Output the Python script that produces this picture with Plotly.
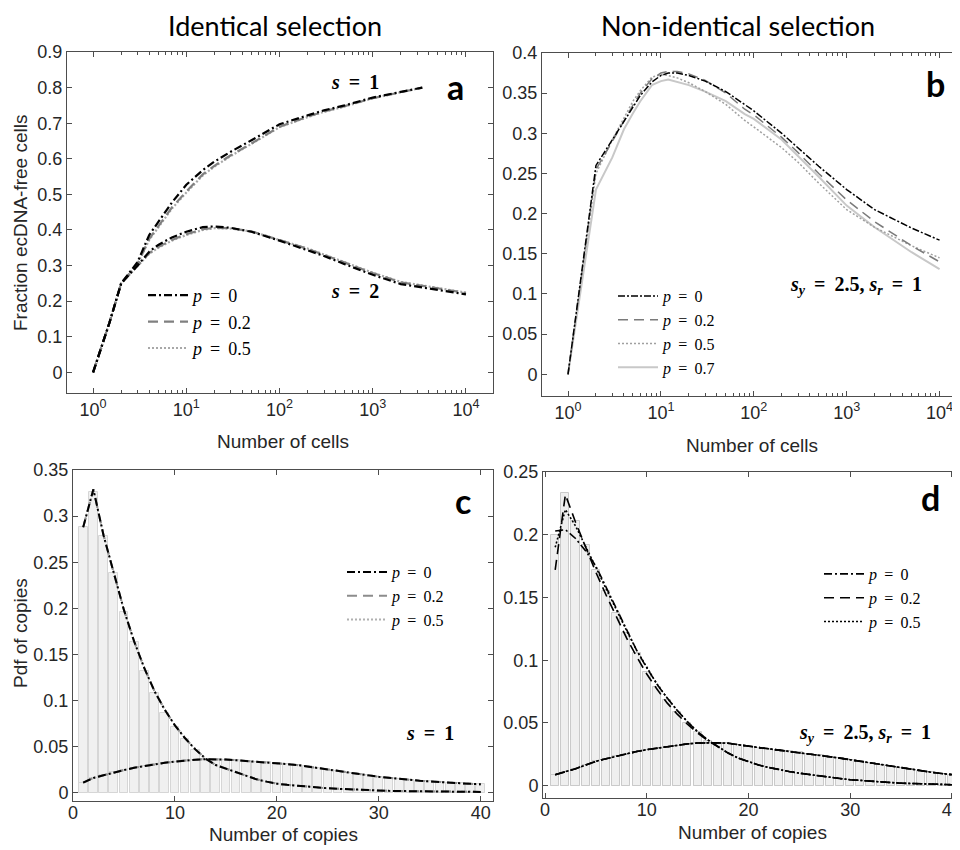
import plotly.graph_objects as go

W, H = 960, 850
OFF = 8  # the page adds an 8 px body margin; shift positions to compensate

# ---------------- Panel a data (Identical selection) ----------------
a_x_s1 = [1, 1.5, 2, 3, 4, 5, 7, 10, 15, 20, 30, 50, 100, 200, 300, 500, 1000, 2000, 3400]
a_s1_p0 = [0, 0.14, 0.25, 0.31, 0.386, 0.422, 0.477, 0.527, 0.568, 0.592, 0.620, 0.652, 0.697, 0.722, 0.736, 0.750, 0.772, 0.788, 0.800]
a_s1_p02 = [0, 0.14, 0.25, 0.305, 0.375, 0.410, 0.463, 0.508, 0.556, 0.580, 0.610, 0.643, 0.690, 0.718, 0.733, 0.748, 0.770, 0.787, 0.800]
a_s1_p05 = [0, 0.14, 0.25, 0.305, 0.372, 0.408, 0.460, 0.505, 0.553, 0.578, 0.608, 0.642, 0.689, 0.717, 0.732, 0.747, 0.770, 0.787, 0.800]

a_x_s2 = [1, 1.5, 2, 3, 4, 5, 7, 10, 15, 20, 30, 50, 100, 200, 300, 500, 1000, 2000, 5000, 10000]
a_s2_p0 = [0, 0.14, 0.25, 0.30, 0.339, 0.358, 0.379, 0.395, 0.408, 0.410, 0.406, 0.395, 0.370, 0.344, 0.327, 0.304, 0.274, 0.248, 0.231, 0.219]
a_s2_p02 = [0, 0.14, 0.25, 0.30, 0.335, 0.352, 0.372, 0.388, 0.402, 0.406, 0.405, 0.396, 0.372, 0.347, 0.330, 0.308, 0.279, 0.253, 0.236, 0.223]
a_s2_p05 = [0, 0.14, 0.25, 0.30, 0.333, 0.350, 0.370, 0.386, 0.400, 0.405, 0.404, 0.396, 0.373, 0.348, 0.331, 0.309, 0.280, 0.254, 0.237, 0.224]

# ---------------- Panel b data (Non-identical selection) ----------------
b_x = [1, 2, 3, 4, 5, 6, 8, 10, 12, 15, 20, 30, 50, 80, 100, 200, 300, 500, 1000, 2000, 5000, 10000]
b_p0 = [0, 0.260, 0.292, 0.315, 0.333, 0.347, 0.364, 0.372, 0.375, 0.375, 0.372, 0.365, 0.352, 0.335, 0.328, 0.300, 0.282, 0.259, 0.230, 0.205, 0.182, 0.167]
b_p02 = [0, 0.255, 0.290, 0.316, 0.335, 0.350, 0.368, 0.375, 0.377, 0.377, 0.374, 0.366, 0.350, 0.330, 0.323, 0.295, 0.276, 0.250, 0.217, 0.190, 0.160, 0.140]
b_p05 = [0, 0.250, 0.292, 0.320, 0.340, 0.353, 0.370, 0.373, 0.372, 0.369, 0.363, 0.352, 0.336, 0.316, 0.308, 0.282, 0.264, 0.238, 0.205, 0.183, 0.160, 0.145]
b_p07 = [0, 0.230, 0.270, 0.305, 0.325, 0.340, 0.360, 0.365, 0.367, 0.364, 0.360, 0.352, 0.340, 0.324, 0.318, 0.292, 0.272, 0.246, 0.210, 0.183, 0.152, 0.131]

# ---------------- Panel c data (copy-number pdf, s = 1) ----------------
copies = list(range(1, 41))
c_hist_narrow = [0.2885, 0.3265, 0.278, 0.238, 0.196, 0.163, 0.132, 0.108, 0.086, 0.0716,
                 0.058, 0.046, 0.037, 0.030, 0.025, 0.021, 0.017, 0.0142, 0.0118, 0.0098,
                 0.0085, 0.0074, 0.0064, 0.0055, 0.0048, 0.0042, 0.0036, 0.0031, 0.0026, 0.0022,
                 0.0020, 0.0018, 0.0016, 0.0014, 0.0012, 0.0011, 0.0010, 0.0009, 0.0008, 0.0008]
c_fit_narrow = [0.288, 0.329, 0.279, 0.237, 0.198, 0.164, 0.135, 0.110, 0.090, 0.073,
                0.059, 0.047, 0.037, 0.030, 0.026, 0.022, 0.018, 0.0145, 0.012, 0.0098,
                0.0085, 0.0074, 0.0064, 0.0055, 0.0048, 0.0042, 0.0036, 0.0031, 0.0026, 0.0022,
                0.0020, 0.0018, 0.0016, 0.0014, 0.0012, 0.0011, 0.0010, 0.0009, 0.0008, 0.0008]
c_broad = [0.011, 0.016, 0.019, 0.022, 0.0245, 0.027, 0.029, 0.031, 0.0325, 0.0336,
           0.035, 0.0358, 0.0363, 0.0363, 0.036, 0.0352, 0.0345, 0.0337, 0.0328, 0.032,
           0.031, 0.030, 0.0285, 0.027, 0.0248, 0.0233, 0.0218, 0.0203, 0.0188, 0.0172,
           0.016, 0.0149, 0.0139, 0.013, 0.0122, 0.0114, 0.0107, 0.0101, 0.0096, 0.0091]

# ---------------- Panel d data (copy-number pdf, s_y = 2.5, s_r = 1) ----------------
d_hist_narrow = [0.200, 0.233, 0.211, 0.192, 0.172, 0.155, 0.1376, 0.1217, 0.1058, 0.091,
                 0.079, 0.0685, 0.0587, 0.050, 0.0425, 0.036, 0.031, 0.026, 0.022, 0.019,
                 0.0165, 0.0145, 0.0127, 0.0113, 0.010, 0.0088, 0.0077, 0.0067, 0.0057, 0.0048,
                 0.0041, 0.0035, 0.0030, 0.0025, 0.0020, 0.0017, 0.0014, 0.0011, 0.0009, 0.0008]
d_head_p0 = [0.203, 0.204, 0.197, 0.187, 0.175, 0.158, 0.141, 0.124, 0.108, 0.094, 0.081, 0.070, 0.060, 0.051, 0.043, 0.0365]
d_head_p02 = [0.172, 0.232, 0.210, 0.190, 0.170, 0.152, 0.135, 0.118, 0.103, 0.089, 0.077, 0.066, 0.057, 0.049, 0.042, 0.036]
d_head_p05 = [0.190, 0.220, 0.207, 0.191, 0.174, 0.157, 0.140, 0.124, 0.108, 0.094, 0.081, 0.070, 0.060, 0.051, 0.043, 0.0365]
d_tail = [0.031, 0.026, 0.022, 0.019, 0.0165, 0.0145, 0.0127, 0.0113, 0.010, 0.0088,
          0.0077, 0.0067, 0.0057, 0.0048, 0.0041, 0.0035, 0.0030, 0.0025, 0.0020, 0.0017,
          0.0014, 0.0011, 0.0009, 0.0008]
d_broad = [0.0088, 0.011, 0.0135, 0.0165, 0.0194, 0.0215, 0.0235, 0.0255, 0.0272, 0.0287,
           0.030, 0.031, 0.032, 0.0333, 0.034, 0.0342, 0.0342, 0.0338, 0.0325, 0.0313,
           0.0304, 0.0294, 0.0284, 0.0275, 0.0266, 0.0255, 0.0244, 0.0232, 0.022, 0.0207,
           0.0194, 0.0181, 0.0168, 0.0155, 0.0142, 0.013, 0.0118, 0.0107, 0.0097, 0.0088]

# ---------------- text ----------------
log_tickvals = [1, 10, 100, 1000, 10000]
log_ticktext = ["10<sup>0</sup>", "10<sup>1</sup>", "10<sup>2</sup>", "10<sup>3</sup>", "10<sup>4</sup>"]
TS = "\u2009"
p_labels = ["<i>p</i>" + TS + " = " + TS + v for v in ["0", "0.2", "0.5", "0.7"]]

# ---------------- layout helpers ----------------
def px_x(v):
    return (v - OFF) / W

def px_y(v):
    return 1 - (v - OFF) / H

AX_COL = "#4d4d4d"
TICK_FONT = dict(family="Liberation Sans", size=18, color="#262626")

minor_log = [m * 10 ** e for e in range(0, 4) for m in range(2, 10)]


def axis_common(domain):
    return dict(domain=domain, showline=True, linecolor=AX_COL, linewidth=1, mirror="ticks",
                ticks="inside", ticklen=5, tickcolor=AX_COL, showgrid=False, zeroline=False,
                tickfont=TICK_FONT, automargin=False)


DD = "8px,3px,2px,3px"
DA = "10px,6px"
DT = "2px,2px"

fig = go.Figure()

# ---- panel a ----
blk_dd = dict(color="#000000", width=2.2, dash=DD)
gry_da = dict(color="#808080", width=2.2, dash=DA)
lgt_dt = dict(color="#a8a8a8", width=2.2, dash=DT)
for ys1, ys2, ln, lab in [(a_s1_p05, a_s2_p05, lgt_dt, p_labels[2]),
                          (a_s1_p02, a_s2_p02, gry_da, p_labels[1]),
                          (a_s1_p0, a_s2_p0, blk_dd, p_labels[0])]:
    fig.add_trace(go.Scatter(x=a_x_s1, y=ys1, mode="lines", line=ln, xaxis="x", yaxis="y",
                             name=lab, legend="legend", showlegend=True))
    fig.add_trace(go.Scatter(x=a_x_s2, y=ys2, mode="lines", line=ln, xaxis="x", yaxis="y",
                             showlegend=False))

# ---- panel b ----
b_styles = [(b_p07, dict(color="#c8c8c8", width=2, dash="solid"), p_labels[3]),
            (b_p05, dict(color="#a0a0a0", width=1.5, dash=DT), p_labels[2]),
            (b_p02, dict(color="#7a7a7a", width=1.5, dash=DA), p_labels[1]),
            (b_p0, dict(color="#000000", width=1.5, dash="7px,2px,2px,2px"), p_labels[0])]
for ys, ln, lab in b_styles:
    fig.add_trace(go.Scatter(x=b_x, y=ys, mode="lines", line=ln, xaxis="x2", yaxis="y2",
                             name=lab, legend="legend2"))

# ---- panel c ----
bar_style = dict(color="#f0f0f0", line=dict(color="#d6d6d6", width=1))
fig.add_trace(go.Bar(x=copies, y=c_hist_narrow, width=0.85, marker=bar_style, xaxis="x3", yaxis="y3",
                     showlegend=False))
fig.add_trace(go.Bar(x=copies, y=c_broad, width=0.85, marker=bar_style, xaxis="x3", yaxis="y3",
                     showlegend=False))
c_styles = [(dict(color="#b0b0b0", width=2, dash=DT), p_labels[2]),
            (dict(color="#8c8c8c", width=2, dash=DA), p_labels[1]),
            (dict(color="#000000", width=2, dash=DD), p_labels[0])]
for ln, lab in c_styles:
    fig.add_trace(go.Scatter(x=copies, y=c_fit_narrow, mode="lines", line=ln, xaxis="x3", yaxis="y3",
                             name=lab, legend="legend3"))
    fig.add_trace(go.Scatter(x=copies, y=c_broad, mode="lines", line=ln, xaxis="x3", yaxis="y3",
                             showlegend=False))

# ---- panel d ----
bar_style_d = dict(color="#efefef", line=dict(color="#cacaca", width=1))
fig.add_trace(go.Bar(x=copies, y=d_hist_narrow, width=0.8, marker=bar_style_d, xaxis="x4", yaxis="y4",
                     showlegend=False))
fig.add_trace(go.Bar(x=copies, y=d_broad, width=0.8, marker=bar_style_d, xaxis="x4", yaxis="y4",
                     showlegend=False))
d_styles = [(d_head_p05, dict(color="#000000", width=1.6, dash=DT), p_labels[2]),
            (d_head_p02, dict(color="#000000", width=1.6, dash=DA), p_labels[1]),
            (d_head_p0, dict(color="#000000", width=1.6, dash=DD), p_labels[0])]
for head, ln, lab in d_styles:
    fig.add_trace(go.Scatter(x=copies, y=head + d_tail, mode="lines", line=ln, xaxis="x4", yaxis="y4",
                             name=lab, legend="legend4"))
    fig.add_trace(go.Scatter(x=copies, y=d_broad, mode="lines", line=ln, xaxis="x4", yaxis="y4",
                             showlegend=False))

# ---------------- axes ----------------
minor_cfg = dict(tickmode="array", tickvals=minor_log, ticks="inside", ticklen=3, tickcolor=AX_COL)

xa = axis_common([px_x(67), px_x(493)])
xa.update(type="log", range=[-0.28, 4.29], tickmode="array", tickvals=log_tickvals, ticktext=log_ticktext,
          minor=minor_cfg, anchor="y")
ya = axis_common([px_y(393), px_y(52)])
ya.update(range=[-0.058, 0.9], dtick=0.1, tick0=0, anchor="x")

xb = axis_common([px_x(542), px_x(960)])
xb.update(type="log", range=[-0.28, 4.22], tickmode="array", tickvals=log_tickvals, ticktext=log_ticktext,
          minor=minor_cfg, anchor="y2")
yb = axis_common([px_y(396), px_y(53)])
yb.update(range=[-0.027, 0.4], dtick=0.05, tick0=0, anchor="x2")

xc = axis_common([px_x(73), px_x(493)])
xc.update(range=[0, 41.2], dtick=10, tick0=0, anchor="y3", ticklabelstandoff=-5)
yc = axis_common([px_y(801), px_y(470)])
yc.update(range=[-0.009, 0.35], dtick=0.05, tick0=0, anchor="x3")

xd = axis_common([px_x(543), px_x(960)])
xd.update(range=[-0.2, 40.8], dtick=10, tick0=0, anchor="y4", ticklabelstandoff=-5)
yd = axis_common([px_y(798), px_y(472)])
yd.update(range=[-0.0098, 0.25], dtick=0.05, tick0=0, anchor="x4")


def legend_at(xpx, ypx, size):
    return dict(x=px_x(xpx), y=px_y(ypx), xanchor="left", yanchor="top", bgcolor="rgba(0,0,0,0)",
                font=dict(family="Liberation Serif", size=size, color="#000"),
                traceorder="reversed", itemwidth=40, tracegroupgap=0, borderwidth=0)


# ---------------- annotations ----------------
ann = []
def add_text(text, xpx, ypx, size, family, color="#000", angle=0):
    ann.append(dict(text=text, x=px_x(xpx), y=px_y(ypx), xref="paper", yref="paper", showarrow=False,
                    xanchor="center", yanchor="middle", textangle=angle,
                    font=dict(size=size, family=family, color=color)))

TITLE_FAM = "Lato"
LAB_FAM = "Liberation Sans"
MATH_FAM = "Liberation Serif"
EQ = TS + " = " + TS

add_text("Identical selection", 275, 25, 27, TITLE_FAM)
add_text("Non-identical selection", 738, 25, 27, TITLE_FAM)
add_text("Fraction ecDNA-free cells", 20, 223, 19, LAB_FAM, "#262626", -90)
add_text("Pdf of copies", 20, 633, 19, LAB_FAM, "#262626", -90)
add_text("Number of cells", 283, 441, 19, LAB_FAM, "#262626")
add_text("Number of cells", 752, 445, 19, LAB_FAM, "#262626")
add_text("Number of copies", 283, 834, 19, LAB_FAM, "#262626")
add_text("Number of copies", 752, 832, 19, LAB_FAM, "#262626")
add_text("<b>a</b>", 455, 86, 34, TITLE_FAM)
add_text("<b>b</b>", 935, 84, 34, TITLE_FAM)
add_text("<b>c</b>", 463, 500, 34, TITLE_FAM)
add_text("<b>d</b>", 930, 498, 34, TITLE_FAM)
add_text("<b><i>s</i>" + EQ + "1</b>", 355, 82, 20, MATH_FAM)
add_text("<b><i>s</i>" + EQ + "2</b>", 355, 291, 20, MATH_FAM)
sysr = "<b><i>s</i><sub><i>y</i></sub>" + EQ + "2.5, <i>s</i><sub><i>r</i></sub>" + EQ + "1</b>"
add_text(sysr, 856, 285, 20, MATH_FAM)
add_text("<b><i>s</i>" + EQ + "1</b>", 430, 733, 20, MATH_FAM)
add_text(sysr, 865, 733, 20, MATH_FAM)

fig.update_layout(
    template="none",
    width=W, height=H, margin=dict(l=0, r=0, t=0, b=0, autoexpand=False),
    paper_bgcolor="white", plot_bgcolor="white",
    barmode="overlay", bargap=0,
    xaxis=xa, yaxis=ya, xaxis2=xb, yaxis2=yb, xaxis3=xc, yaxis3=yc, xaxis4=xd, yaxis4=yd,
    legend=legend_at(143, 277, 18),
    legend2=legend_at(613, 279, 16),
    legend3=legend_at(342, 555, 16),
    legend4=legend_at(819, 557, 16),
    annotations=ann,
    font=dict(family=LAB_FAM, color="#262626"),
)

fig.write_html("out.html")
